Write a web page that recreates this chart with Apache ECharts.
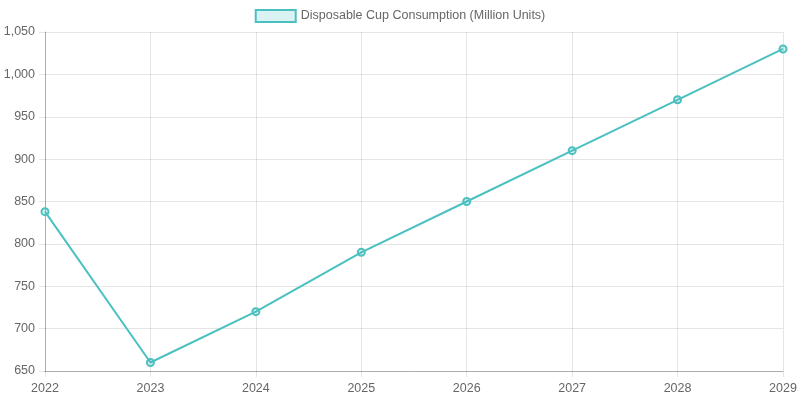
<!DOCTYPE html>
<html>
<head>
<meta charset="utf-8">
<script src="https://cdn.jsdelivr.net/npm/echarts@6/dist/echarts.min.js"></script>
<style>html,body{margin:0;padding:0;background:#fff;}#c{width:800px;height:400px;}</style>
</head>
<body>
<div id="c"></div>
<script>
const years = ['2022','2023','2024','2025','2026','2027','2028','2029'];
const consumption = [838, 660, 720, 790, 850, 910, 970, 1030];
const seriesName = 'Disposable Cup Consumption (Million Units)';

const chart = echarts.init(document.getElementById('c'), null, {renderer:'canvas'});
const gridColor = 'rgba(0,0,0,0.1)';
const font = 'Liberation Sans, Arial, sans-serif';
chart.setOption({
  animation: false,
  textStyle: {fontFamily: font},
  legend: {
    top: 4, left: 'center',
    itemWidth: 40, itemHeight: 12, itemGap: 10,
    textStyle: {color: '#666', fontSize: 12.5, fontFamily: font},
    data: [{name: seriesName, icon: 'rect', itemStyle: {color: 'rgba(75,192,192,0.2)', borderColor: 'rgb(75,192,192)', borderWidth: 2}}]
  },
  grid: {left: 45, right: 17, top: 32, bottom: 29, containLabel: false},
  xAxis: {
    type: 'category', data: years, boundaryGap: false,
    axisLine: {show: true, lineStyle: {color: 'rgba(0,0,0,0.25)'}},
    axisTick: {show: true, length: 6, lineStyle: {color: gridColor}},
    axisLabel: {color: '#666', fontSize: 12.5, margin: 11, fontFamily: font},
    splitLine: {show: true, lineStyle: {color: gridColor}}
  },
  yAxis: {
    type: 'value', min: 650, max: 1050, interval: 50,
    axisLine: {show: true, lineStyle: {color: 'rgba(0,0,0,0.25)'}},
    axisTick: {show: true, length: 6, lineStyle: {color: gridColor}},
    axisLabel: {color: '#666', fontSize: 12.5, margin: 10, fontFamily: font, formatter: v => v.toLocaleString('en-US')},
    splitLine: {show: true, lineStyle: {color: gridColor}}
  },
  series: [{
    name: seriesName, type: 'line', data: consumption,
    symbol: 'circle', symbolSize: 7,
    lineStyle: {color: 'rgb(75,192,192)', width: 2},
    itemStyle: {color: 'rgba(75,192,192,0.2)', borderColor: 'rgb(75,192,192)', borderWidth: 2}
  }]
});
</script>
</body>
</html>
